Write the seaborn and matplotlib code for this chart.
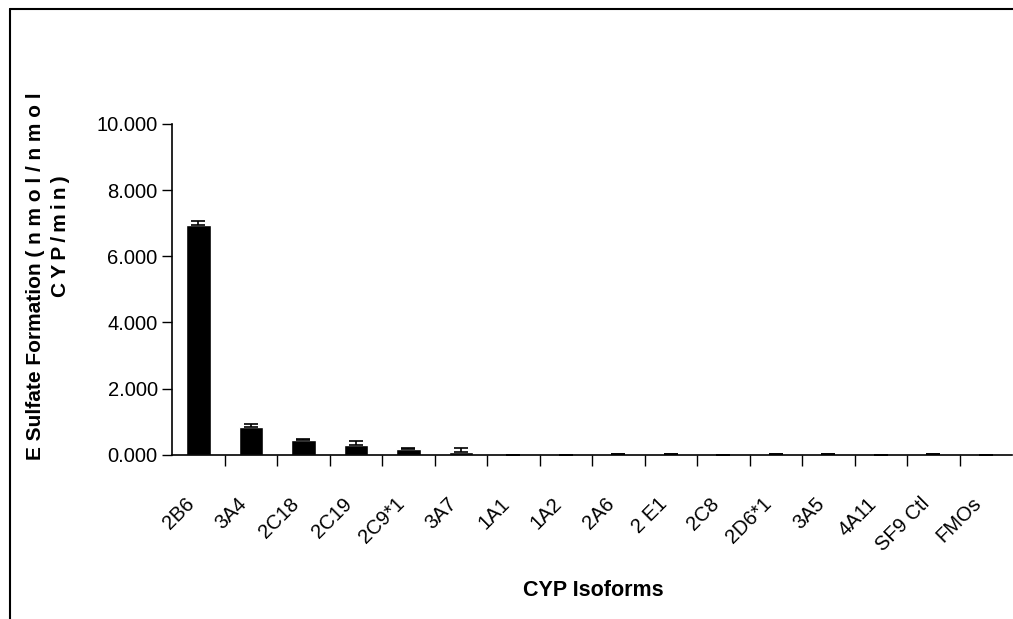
import numpy as np
import pandas as pd
import matplotlib
matplotlib.use('Agg')
import matplotlib.pyplot as plt
import matplotlib.transforms as mtransforms
from matplotlib.lines import Line2D
from matplotlib.ticker import FixedLocator, FormatStrFormatter
import seaborn as sns

# values
isoforms = ['2B6', '3A4', '2C18', '2C19', '2C9*1', '3A7', '1A1', '1A2', '2A6',
            '2 E1', '2C8', '2D6*1', '3A5', '4A11', 'SF9 Ctl', 'FMOs']
formation = [6.95, 0.85, 0.44, 0.30, 0.18, 0.08, 0.01, 0.01, 0.02,
             0.02, 0.01, 0.02, 0.02, 0.01, 0.02, 0.01]
err = [0.12, 0.07, 0.04, 0.12, 0.04, 0.14, 0.0, 0.0, 0.0,
       0.0, 0.0, 0.0, 0.0, 0.0, 0.0, 0.0]

sns.set_style('white')
plt.rcParams['font.family'] = ['Liberation Sans', 'DejaVu Sans']
for k in ['text.color', 'axes.labelcolor', 'xtick.color', 'ytick.color']:
    plt.rcParams[k] = 'black'

df = pd.DataFrame({'iso': isoforms, 'val': formation})

fig = plt.figure(figsize=(10.13, 6.19), dpi=100)
ax = fig.add_axes([0.170, 0.265, 0.829, 0.535])

sns.barplot(data=df, x='iso', y='val', color='black', width=0.47,
            errorbar=None, saturation=1, ax=ax)
ax.errorbar(x=np.arange(len(isoforms)), y=formation, yerr=[np.zeros(len(err)), err],
            fmt='none', ecolor='black', elinewidth=1.2, capsize=5, capthick=1.2)

ax.set_xlim(-0.5, len(isoforms) - 0.5)
ax.set_ylim(0, 10)
ax.set_yticks([0, 2, 4, 6, 8, 10])
ax.yaxis.set_major_formatter(FormatStrFormatter('%.3f'))

# ticks between the categories
ax.xaxis.set_minor_locator(FixedLocator(np.arange(0.5, len(isoforms) - 0.5, 1)))
ax.tick_params(axis='x', which='major', length=0, labelsize=14.5, pad=33)
ax.tick_params(axis='x', which='minor', length=8, width=1, color='black', direction='out', bottom=True)
ax.tick_params(axis='y', length=7, width=1, color='black', direction='out', left=True, labelsize=14.5)

offset = mtransforms.ScaledTranslation(-7 / 100, 0, fig.dpi_scale_trans)
for lab in ax.get_xticklabels():
    lab.set_rotation(45)
    lab.set_ha('right')
    lab.set_va('center')
    lab.set_rotation_mode('anchor')
    lab.set_transform(lab.get_transform() + offset)

sns.despine(ax=ax)
for s in ['left', 'bottom']:
    ax.spines[s].set_color('black')
    ax.spines[s].set_linewidth(1.2)

ax.set_xlabel('CYP Isoforms', fontsize=15.5, fontweight='bold', va='center')
ax.xaxis.set_label_coords(0.502, -0.408)
ax.set_ylabel('')

# y title: two lines placed as in the original, unit part letter-spaced
line1 = 'E Sulfate Formation ' + ' '.join('(nmol/nmol')
line2 = '\u2009'.join('CYP/min)')
fig.text(36 / 1013, 1 - 276 / 619, line1, rotation=90, ha='center', va='center',
         fontsize=15, fontweight='bold')
fig.text(61 / 1013, 1 - 236 / 619, line2, rotation=90, ha='center', va='center',
         fontsize=15, fontweight='bold')

# outer frame (left and top only visible)
fig.add_artist(Line2D([10 / 1013, 10 / 1013], [0, 1 - 9 / 619], transform=fig.transFigure,
                      color='black', lw=1.5))
fig.add_artist(Line2D([10 / 1013, 1], [1 - 9 / 619, 1 - 9 / 619], transform=fig.transFigure,
                      color='black', lw=1.5))

fig.savefig('out.png', dpi=100)
